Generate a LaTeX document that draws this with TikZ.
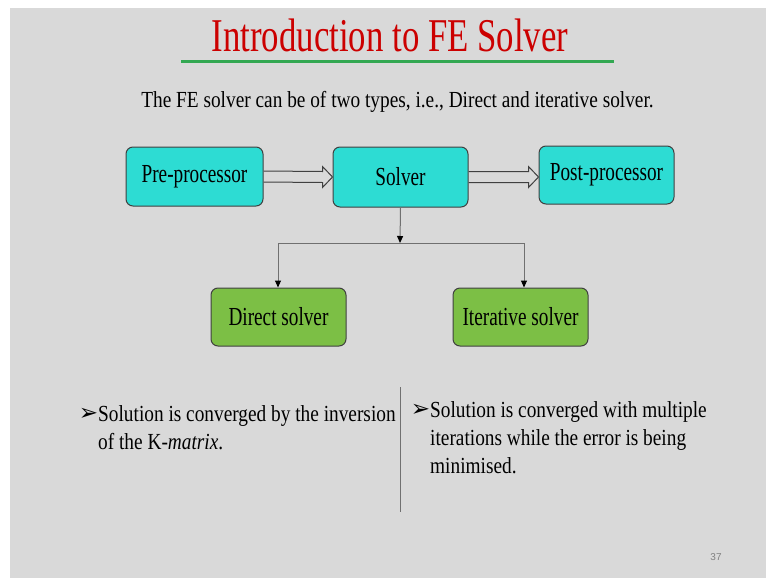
\documentclass[tikz,border=0pt]{standalone}
\usepackage{fontspec}
\setmainfont[FakeStretch=0.74]{Liberation Serif}
\newfontfamily\bodyfont[FakeStretch=0.84]{Liberation Serif}
\newfontfamily\symfont{DejaVu Sans}
\newfontfamily\numfont{Liberation Sans}
\usetikzlibrary{arrows.meta,calc}
\definecolor{slidebg}{HTML}{D9D9D9}
\definecolor{cyanbox}{HTML}{2DDCD3}
\definecolor{greenbox}{HTML}{7CBF45}
\definecolor{titlered}{HTML}{CC0000}
\definecolor{ulgreen}{HTML}{33A852}
\definecolor{boxborder}{HTML}{404040}
\definecolor{connector}{HTML}{707070}
\tikzset{
  procbox/.style={draw=boxborder, line width=1pt, rounded corners=7, fill=cyanbox,
    minimum width=137, minimum height=59, inner sep=0, font=\fontsize{26}{26}\selectfont},
  solvbox/.style={procbox, fill=greenbox, minimum width=135, minimum height=58},
  blockarrow/.style={draw=boxborder, line width=1pt, line join=miter},
  branch/.style={draw=connector, line width=1pt},
  branchtip/.style={branch, -{Triangle[width=6,length=7,black]}},
  bullettext/.style={anchor=north west, align=left, inner sep=0,
    font=\bodyfont\fontsize{23}{28}\selectfont},
}
\newcommand{\bul}{\llap{\raisebox{0.5pt}{\symfont\fontsize{23}{23}\selectfont ➢}\hspace{0pt}}}
\begin{document}
\begin{tikzpicture}[x=1pt,y=-1pt]
  \useasboundingbox (0,0) rectangle (767,578);
  \fill[white] (0,0) rectangle (767,578);
  \fill[slidebg] (10,8) rectangle (766,578);

  % title
  \node[anchor=base, text=titlered, inner sep=0, font=\fontsize{47}{47}\selectfont] (title) at (390,52) {Introduction to FE Solver};
  \draw[ulgreen, line width=3] (181,61) coordinate (ul1) -- (614,61) coordinate (ul2);

  % subtitle
  \node[anchor=base, inner sep=0, font=\bodyfont\fontsize{23}{23}\selectfont] (sub) at (397.5,107) {The FE solver can be of two types, i.e., Direct and iterative solver.};

  % top row
  \node[procbox] (pre) at (194.5,176.5) {Pre-processor};
  \node[procbox, minimum width=135, minimum height=60] (solver) at (400.5,177) {Solver};
  \node[procbox, minimum width=135, minimum height=58] (post) at (606.5,175) {Post-processor};

  % block arrows
  \draw[blockarrow] ($(pre.east)+(0,-5.5)$) -- ($(solver.west)+(-10,-5.5)$) -- ($(solver.west)+(-10,-10.5)$)
     -- (solver.west) -- ($(solver.west)+(-10,10.5)$) -- ($(solver.west)+(-10,5.5)$) -- ($(pre.east)+(0,5.5)$);
  \coordinate (pw) at (post.west |- solver.east);
  \draw[blockarrow] ($(solver.east)+(0,-5.5)$) -- ($(pw)+(-10,-5.5)$) -- ($(pw)+(-10,-10.5)$)
     -- (pw) -- ($(pw)+(-10,10.5)$) -- ($(pw)+(-10,5.5)$) -- ($(solver.east)+(0,5.5)$);

  % bottom row
  \node[solvbox] (direct) at (278.5,317) {Direct solver};
  \node[solvbox] (iter) at (520.5,317) {Iterative solver};

  % branch connectors
  \coordinate (j) at (400,243);
  \draw[branchtip] (solver.south) -- (j);
  \draw[branch] (j) -- (278,243) coordinate (jl);
  \draw[branch] (j) -- (524,243) coordinate (jr);
  \draw[branchtip] (jl) -- (jl |- direct.north);
  \draw[branchtip] (jr) -- (jr |- iter.north);

  % bullet texts
  \node[bullettext] (left) at (98,405) {\bul Solution is converged by the inversion\\of the K-\textit{matrix}.};
  \node[bullettext] (right) at (430,401) {\bul Solution is converged with multiple\\iterations while the error is being\\minimised.};
  \draw[connector, line width=0.8pt] (400,387) coordinate (d1) -- (400,512) coordinate (d2);

  % page number
  \node[text=gray, font=\numfont\fontsize{10}{10}\selectfont, inner sep=0] (pg) at (716,557) {37};
\end{tikzpicture}
\end{document}
